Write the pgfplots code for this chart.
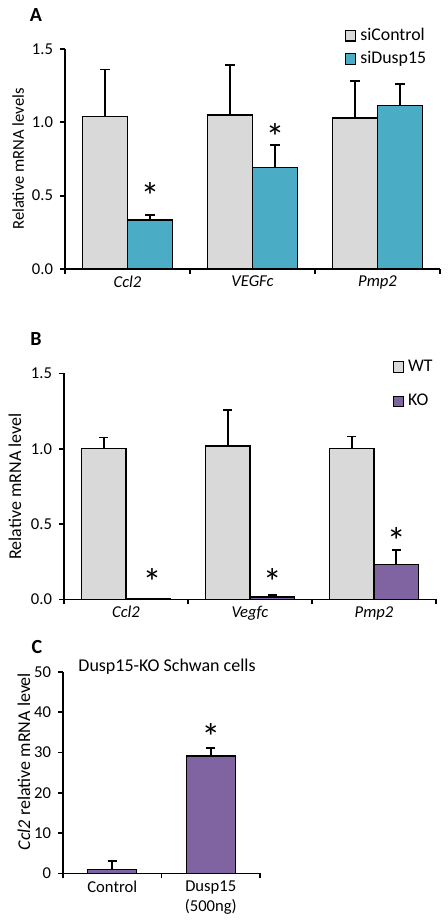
\documentclass[border=0pt]{standalone}
\usepackage{pgfplots}
\pgfplotsset{compat=1.18}
\usepackage{fontspec}
\setmainfont{Carlito}
\definecolor{lgray}{RGB}{217,217,217}
\definecolor{cyanb}{RGB}{75,172,198}
\definecolor{purp}{RGB}{128,100,162}
\newcommand\fs{\fontsize{8.3pt}{10pt}\selectfont}
\newcommand\fl{\fontsize{8.9pt}{10.5pt}\selectfont}
\newcommand\fst{\fontsize{19pt}{19pt}\selectfont}
\pgfplotsset{
  common/.style={
    scale only axis,
    clip=false,
    axis x line*=bottom, axis y line*=left,
    axis line style={line width=0.9pt},
    tick style={line width=0.9pt, black},
    tick align=outside,
    major tick length=2.5pt,
    enlargelimits=false,
    tick label style={font=\fs},
    /pgf/number format/assume math mode=true,
    extra x tick style={major tick length=0pt},
    ybar=0pt,
    every axis y label/.style={rotate=90, anchor=center, font=\fs},
    legend cell align=left,
    legend image code/.code={\draw[##1, line width=0.6pt] (0pt,-2.6pt) rectangle (5.2pt,2.6pt);},
    error bars/error bar style={line width=0.8pt, black},
    error bars/error mark options={rotate=90, line width=0.8pt, black, mark size=2.3pt},
  },
  bars/.style={draw=black, line width=0.7pt, fill=#1,
    error bars/.cd, y dir=plus, y explicit},
}
\begin{document}
\begin{tikzpicture}
\path[use as bounding box] (0,0) rectangle (224pt,-462pt);
\node[font=\bfseries\fontsize{10}{12}\selectfont] at (18pt,-7.5pt) {A};
\node[font=\bfseries\fontsize{10}{12}\selectfont] at (18pt,-169.5pt) {B};
\node[font=\bfseries\fontsize{10}{12}\selectfont] at (18.5pt,-323.5pt) {C};

% Panel A
\begin{axis}[common,
  at={(32.5pt,-134.5pt)}, anchor=south west,
  width=187.5pt, height=110pt,
  xmin=-0.5, xmax=2.5, ymin=0, ymax=1.5,
  xtick={-0.5,0.5,1.5,2.5},
  xticklabels={,,,},
  extra x ticks={0,1,2},
  extra x tick labels={\textit{Ccl2},\textit{VEGFc},\textit{Pmp2}},
  ytick={0,0.5,1,1.5},
  yticklabel style={/pgf/number format/.cd, fixed, fixed zerofill, precision=1},
  bar width=22.5pt,
  ylabel={Relative mRNA levels},
  every axis y label/.append style={at={(axis description cs:-0.125,0.5)}},
  legend style={draw=none, fill=none, font=\fl, at={(axis description cs:0.745,1.115)}, anchor=north west, inner sep=0pt, row sep=0pt},
]
\addplot[bars=lgray] coordinates {(0,1.04) +- (0,0.32) (1,1.05) +- (0,0.34) (2,1.03) +- (0,0.25)};
\addplot[bars=cyanb] coordinates {(0,0.335) +- (0,0.035) (1,0.69) +- (0,0.155) (2,1.115) +- (0,0.145)};
\legend{siControl,siDusp15}
\node[font=\fst] at (axis cs:0.18,0.50) {*};
\node[font=\fst] at (axis cs:1.18,0.90) {*};
\end{axis}

% Panel B
\begin{axis}[common,
  at={(32pt,-299.7pt)}, anchor=south west,
  width=186pt, height=113pt,
  xmin=-0.5, xmax=2.5, ymin=0, ymax=1.5,
  xtick={-0.5,0.5,1.5,2.5},
  xticklabels={,,,},
  extra x ticks={0,1,2},
  extra x tick labels={\textit{Ccl2},\textit{Vegfc},\textit{Pmp2}},
  ytick={0,0.5,1,1.5},
  yticklabel style={/pgf/number format/.cd, fixed, fixed zerofill, precision=1},
  bar width=22.2pt,
  ylabel={Relative mRNA level},
  every axis y label/.append style={at={(axis description cs:-0.132,0.5)}, font=\fontsize{9pt}{11pt}\selectfont},
  legend style={draw=none, fill=none, font=\fl, at={(axis description cs:0.882,1.08)}, anchor=north west, inner sep=0pt, row sep=6pt},
]
\addplot[bars=lgray] coordinates {(0,1.0) +- (0,0.075) (1,1.017) +- (0,0.24) (2,1.0) +- (0,0.08)};
\addplot[bars=purp] coordinates {(0,0.004) +- (0,0.001) (1,0.015) +- (0,0.015) (2,0.233) +- (0,0.095)};
\legend{WT,KO}
\node[font=\fst] at (axis cs:0.21,0.115) {*};
\node[font=\fst] at (axis cs:1.18,0.115) {*};
\node[font=\fst] at (axis cs:2.18,0.385) {*};
\end{axis}

% Panel C
\begin{axis}[common,
  at={(31.5pt,-436.7pt)}, anchor=south west,
  width=98.5pt, height=100.8pt,
  xmin=-0.5, xmax=1.5, ymin=0, ymax=50,
  xtick={-0.5,0.5,1.5},
  xticklabels={,,},
  extra x ticks={0,1},
  extra x tick labels={Control,{Dusp15\\(500ng)}},
  extra x tick style={major tick length=0pt, tick label style={align=center}},
  ytick={0,10,20,30,40,50},
  bar width=24.5pt,
  ylabel={\textit{Ccl2} relative mRNA level},
  every axis y label/.append style={at={(axis description cs:-0.198,0.555)}, font=\fontsize{9pt}{11pt}\selectfont},
]
\addplot[bars=purp] coordinates {(0,1.0) +- (0,2.1) (1,29.1) +- (0,2.0)};
\node[font=\fst] at (axis cs:1,33.8) {*};
\node[font=\fontsize{9pt}{11pt}\selectfont] at (axis description cs:0.528,1.024) {Dusp15-KO Schwan cells};
\end{axis}
\end{tikzpicture}
\end{document}
